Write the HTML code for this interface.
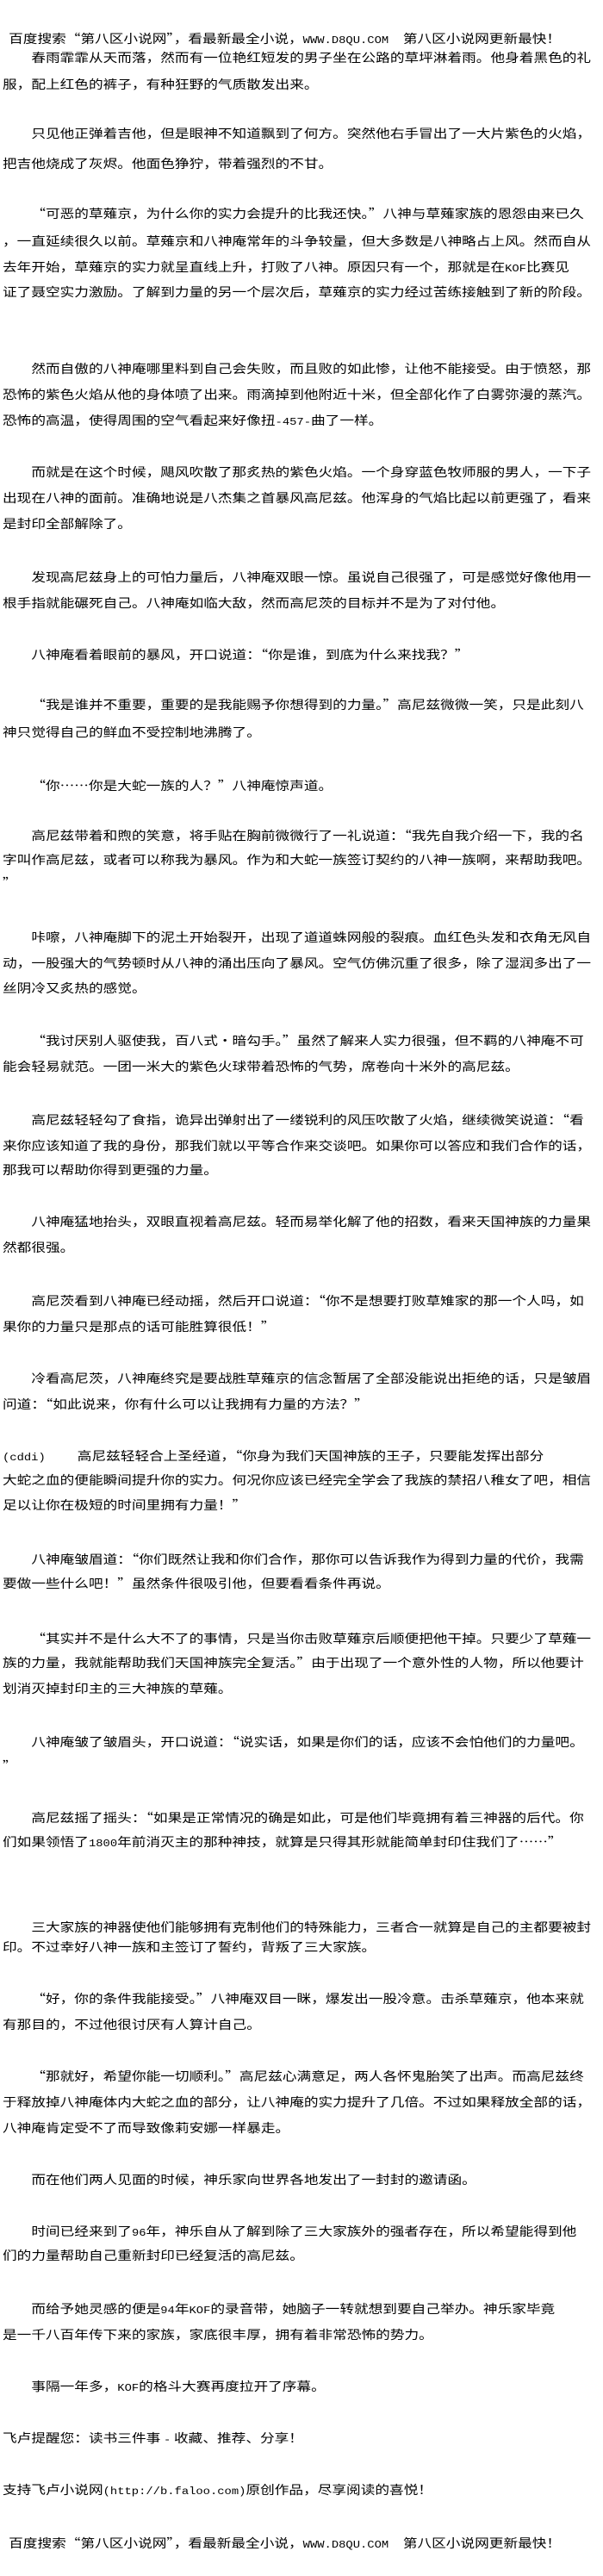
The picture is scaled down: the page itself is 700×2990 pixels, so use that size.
<!DOCTYPE html>
<html><head><meta charset="utf-8">
<style>
html,body{margin:0;padding:0;background:#fff;}
body{width:700px;height:2990px;position:relative;overflow:hidden;}
#w{position:absolute;left:3px;top:0;width:580px;height:2990px;transform:scaleX(1.19);transform-origin:0 0;}
#w div{position:absolute;left:0;height:30px;line-height:30px;font-size:14px;white-space:nowrap;color:#000;
font-family:"Noto Sans CJK SC","WenQuanYi Zen Hei",sans-serif;}
#w div.i{padding-left:28px;}
#w div.h{left:6px;}
.l{font-family:"Liberation Mono",monospace;font-size:0.83em;}
</style></head><body><div id="w">
<div class="h" style="top:30px">百度搜索“第八区小说网”，看最新最全小说，<span class="l">WWW.D8QU.COM</span>　第八区小说网更新最快！</div>
<div class="i" style="top:52px">春雨霏霏从天而落，然而有一位艳红短发的男子坐在公路的草坪淋着雨。他身着黑色的礼</div>
<div style="top:83px">服，配上红色的裤子，有种狂野的气质散发出来。</div>
<div class="i" style="top:140px">只见他正弹着吉他，但是眼神不知道飘到了何方。突然他右手冒出了一大片紫色的火焰，</div>
<div style="top:175px">把吉他烧成了灰烬。他面色狰狞，带着强烈的不甘。</div>
<div class="i" style="top:233px">“可恶的草薙京，为什么你的实力会提升的比我还快。”八神与草薙家族的恩怨由来已久</div>
<div style="top:265px">，一直延续很久以前。草薙京和八神庵常年的斗争较量，但大多数是八神略占上风。然而自从</div>
<div style="top:295px">去年开始，草薙京的实力就呈直线上升，打败了八神。原因只有一个，那就是在<span class="l">KOF</span>比赛见</div>
<div style="top:324px">证了聂空实力激励。了解到力量的另一个层次后，草薙京的实力经过苦练接触到了新的阶段。</div>
<div class="i" style="top:413px">然而自傲的八神庵哪里料到自己会失败，而且败的如此惨，让他不能接受。由于愤怒，那</div>
<div style="top:443px">恐怖的紫色火焰从他的身体喷了出来。雨滴掉到他附近十米，但全部化作了白雾弥漫的蒸汽。</div>
<div style="top:473px">恐怖的高温，使得周围的空气看起来好像扭<span class="l">-457-</span>曲了一样。</div>
<div class="i" style="top:533px">而就是在这个时候，飓风吹散了那炙热的紫色火焰。一个身穿蓝色牧师服的男人，一下子</div>
<div style="top:563px">出现在八神的面前。准确地说是八杰集之首暴风高尼兹。他浑身的气焰比起以前更强了，看来</div>
<div style="top:593px">是封印全部解除了。</div>
<div class="i" style="top:655px">发现高尼兹身上的可怕力量后，八神庵双眼一惊。虽说自己很强了，可是感觉好像他用一</div>
<div style="top:685px">根手指就能碾死自己。八神庵如临大敌，然而高尼茨的目标并不是为了对付他。</div>
<div class="i" style="top:745px">八神庵看着眼前的暴风，开口说道：“你是谁，到底为什么来找我？”</div>
<div class="i" style="top:803px">“我是谁并不重要，重要的是我能赐予你想得到的力量。”高尼兹微微一笑，只是此刻八</div>
<div style="top:835px">神只觉得自己的鲜血不受控制地沸腾了。</div>
<div class="i" style="top:897px">“你……你是大蛇一族的人？”八神庵惊声道。</div>
<div class="i" style="top:955px">高尼兹带着和煦的笑意，将手贴在胸前微微行了一礼说道：“我先自我介绍一下，我的名</div>
<div style="top:983px">字叫作高尼兹，或者可以称我为暴风。作为和大蛇一族签订契约的八神一族啊，来帮助我吧。</div>
<div style="top:1010px">”</div>
<div class="i" style="top:1073px">咔嚓，八神庵脚下的泥土开始裂开，出现了道道蛛网般的裂痕。血红色头发和衣角无风自</div>
<div style="top:1103px">动，一股强大的气势顿时从八神的涌出压向了暴风。空气仿佛沉重了很多，除了湿润多出了一</div>
<div style="top:1132px">丝阴冷又炙热的感觉。</div>
<div class="i" style="top:1193px">“我讨厌别人驱使我，百八式·暗勾手。”虽然了解来人实力很强，但不羁的八神庵不可</div>
<div style="top:1223px">能会轻易就范。一团一米大的紫色火球带着恐怖的气势，席卷向十米外的高尼兹。</div>
<div class="i" style="top:1285px">高尼兹轻轻勾了食指，诡异出弹射出了一缕锐利的风压吹散了火焰，继续微笑说道：“看</div>
<div style="top:1315px">来你应该知道了我的身份，那我们就以平等合作来交谈吧。如果你可以答应和我们合作的话，</div>
<div style="top:1343px">那我可以帮助你得到更强的力量。</div>
<div class="i" style="top:1403px">八神庵猛地抬头，双眼直视着高尼兹。轻而易举化解了他的招数，看来天国神族的力量果</div>
<div style="top:1433px">然都很强。</div>
<div class="i" style="top:1495px">高尼茨看到八神庵已经动摇，然后开口说道：“你不是想要打败草雉家的那一个人吗，如</div>
<div style="top:1525px">果你的力量只是那点的话可能胜算很低！”</div>
<div class="i" style="top:1585px">冷看高尼茨，八神庵终究是要战胜草薙京的信念暂居了全部没能说出拒绝的话，只是皱眉</div>
<div style="top:1615px">问道：“如此说来，你有什么可以让我拥有力量的方法？”</div>
<div style="top:1675px"><span class="l">(cddi)</span>　　 高尼兹轻轻合上圣经道，“你身为我们天国神族的王子，只要能发挥出部分</div>
<div style="top:1703px">大蛇之血的便能瞬间提升你的实力。何况你应该已经完全学会了我族的禁招八稚女了吧，相信</div>
<div style="top:1732px">足以让你在极短的时间里拥有力量！”</div>
<div class="i" style="top:1795px">八神庵皱眉道：“你们既然让我和你们合作，那你可以告诉我作为得到力量的代价，我需</div>
<div style="top:1823px">要做一些什么吧！”虽然条件很吸引他，但要看看条件再说。</div>
<div class="i" style="top:1887px">“其实并不是什么大不了的事情，只是当你击败草薙京后顺便把他干掉。只要少了草薙一</div>
<div style="top:1915px">族的力量，我就能帮助我们天国神族完全复活。”由于出现了一个意外性的人物，所以他要计</div>
<div style="top:1945px">划消灭掉封印主的三大神族的草薙。</div>
<div class="i" style="top:2007px">八神庵皱了皱眉头，开口说道：“说实话，如果是你们的话，应该不会怕他们的力量吧。</div>
<div style="top:2035px">”</div>
<div class="i" style="top:2095px">高尼兹摇了摇头：“如果是正常情况的确是如此，可是他们毕竟拥有着三神器的后代。你</div>
<div style="top:2123px">们如果领悟了<span class="l">1800</span>年前消灭主的那种神技，就算是只得其形就能简单封印住我们了……”</div>
<div class="i" style="top:2222px">三大家族的神器使他们能够拥有克制他们的特殊能力，三者合一就算是自己的主都要被封</div>
<div style="top:2245px">印。不过幸好八神一族和主签订了誓约，背叛了三大家族。</div>
<div class="i" style="top:2305px">“好，你的条件我能接受。”八神庵双目一眯，爆发出一股冷意。击杀草薙京，他本来就</div>
<div style="top:2335px">有那目的，不过他很讨厌有人算计自己。</div>
<div class="i" style="top:2395px">“那就好，希望你能一切顺利。”高尼兹心满意足，两人各怀鬼胎笑了出声。而高尼兹终</div>
<div style="top:2425px">于释放掉八神庵体内大蛇之血的部分，让八神庵的实力提升了几倍。不过如果释放全部的话，</div>
<div style="top:2455px">八神庵肯定受不了而导致像莉安娜一样暴走。</div>
<div class="i" style="top:2515px">而在他们两人见面的时候，神乐家向世界各地发出了一封封的邀请函。</div>
<div class="i" style="top:2575px">时间已经来到了<span class="l">96</span>年，神乐自从了解到除了三大家族外的强者存在，所以希望能得到他</div>
<div style="top:2603px">们的力量帮助自己重新封印已经复活的高尼兹。</div>
<div class="i" style="top:2665px">而给予她灵感的便是<span class="l">94</span>年<span class="l">KOF</span>的录音带，她脑子一转就想到要自己举办。神乐家毕竟</div>
<div style="top:2695px">是一千八百年传下来的家族，家底很丰厚，拥有着非常恐怖的势力。</div>
<div class="i" style="top:2755px">事隔一年多，<span class="l">KOF</span>的格斗大赛再度拉开了序幕。</div>
<div style="top:2815px">飞卢提醒您：读书三件事 <span class="l">-</span> 收藏、推荐、分享！</div>
<div style="top:2875px">支持飞卢小说网<span class="l">(http://b.faloo.com)</span>原创作品，尽享阅读的喜悦！</div>
<div class="h" style="top:2937px">百度搜索“第八区小说网”，看最新最全小说，<span class="l">WWW.D8QU.COM</span>　第八区小说网更新最快！</div>
</div></body></html>
